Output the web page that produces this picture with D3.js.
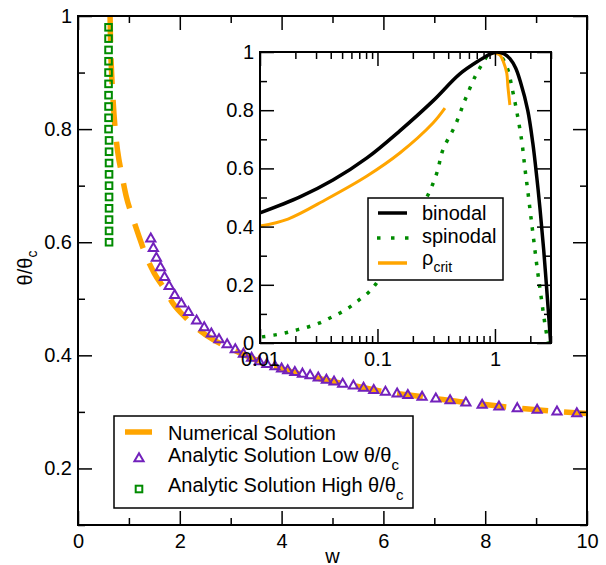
<!DOCTYPE html>
<html>
<head>
<meta charset="utf-8">
<script src="https://cdn.jsdelivr.net/npm/d3@7"></script>
<style>
  body { margin: 0; background: #fff; }
  svg { font-family: "Liberation Sans", Arial, sans-serif; }
</style>
</head>
<body>
<div id="chart"></div>
<script>
// Main plot: numerical solution (dashed orange)
const numW     = [0.63, 0.64, 0.66, 0.69, 0.73, 0.78, 0.86, 0.95, 1.07, 1.20, 1.34, 1.50, 1.68, 1.88, 2.10, 2.35, 2.65, 3.0, 3.5, 4.0, 4.5, 5.0, 5.5, 6.0, 6.5, 7.0, 7.5, 8.0, 8.5, 9.0, 9.5, 10.0];
const numTheta = [1.00, 0.95, 0.90, 0.85, 0.80, 0.76, 0.72, 0.68, 0.645, 0.61, 0.575, 0.545, 0.52, 0.49, 0.468, 0.447, 0.428, 0.412, 0.392, 0.376, 0.364, 0.354, 0.345, 0.336, 0.330, 0.324, 0.318, 0.313, 0.308, 0.304, 0.300, 0.297];

// analytic solution, low theta (triangles)
const lowW     = [1.43, 1.48, 1.54, 1.62, 1.70, 1.79, 1.90, 2.03, 2.17, 2.33, 2.48, 2.62, 2.77, 2.93, 3.09, 3.25, 3.41, 3.56, 3.71, 3.87, 4.00, 4.12, 4.26, 4.41, 4.56, 4.72, 4.88, 5.03, 5.20, 5.41, 5.61, 5.81, 6.04, 6.27, 6.48, 6.76, 7.03, 7.31, 7.62, 7.94, 8.27, 8.63, 9.02, 9.41, 9.80];
const lowTheta = [0.607, 0.590, 0.573, 0.556, 0.539, 0.523, 0.507, 0.492, 0.477, 0.462, 0.450, 0.439, 0.429, 0.420, 0.411, 0.403, 0.396, 0.390, 0.385, 0.381, 0.377, 0.374, 0.371, 0.368, 0.365, 0.361, 0.357, 0.354, 0.350, 0.347, 0.343, 0.339, 0.336, 0.333, 0.330, 0.327, 0.324, 0.321, 0.317, 0.313, 0.310, 0.307, 0.304, 0.301, 0.298];

// analytic solution, high theta (squares)
const highW     = [0.60, 0.60, 0.60, 0.60, 0.60, 0.60, 0.60, 0.60, 0.60, 0.60, 0.61, 0.61, 0.61, 0.61, 0.61, 0.61, 0.61, 0.61, 0.61, 0.61];
const highTheta = [0.98, 0.96, 0.94, 0.92, 0.90, 0.88, 0.86, 0.84, 0.82, 0.80, 0.78, 0.76, 0.74, 0.72, 0.70, 0.68, 0.66, 0.64, 0.62, 0.60];

// Inset curves (x on log axis)
const binX = [0.010, 0.0219, 0.0418, 0.0814, 0.155, 0.297, 0.50, 0.748, 0.90, 1.03, 1.20, 1.34, 1.50, 1.64, 1.90, 2.10, 2.27, 2.42, 2.60, 2.80, 2.98];
const binY = [0.447, 0.502, 0.560, 0.636, 0.729, 0.832, 0.924, 0.973, 0.992, 1.000, 0.993, 0.977, 0.945, 0.900, 0.800, 0.687, 0.570, 0.460, 0.320, 0.150, 0.0];

const spinX = [0.0104, 0.0131, 0.0166, 0.0206, 0.0256, 0.0318, 0.0394, 0.048, 0.0584, 0.0697, 0.083, 0.097, 0.15, 0.20, 0.264, 0.32, 0.36, 0.46, 0.556, 0.675, 0.77, 0.90, 1.0, 1.1, 1.26, 1.42, 1.57, 1.70, 1.80, 1.90, 2.0, 2.1, 2.3, 2.45, 2.7, 2.85];
const spinY = [0.021, 0.027, 0.035, 0.045, 0.055, 0.068, 0.086, 0.103, 0.124, 0.148, 0.172, 0.203, 0.32, 0.42, 0.502, 0.584, 0.663, 0.749, 0.835, 0.914, 0.955, 0.995, 1.0, 0.99, 0.95, 0.863, 0.773, 0.687, 0.600, 0.525, 0.45, 0.38, 0.25, 0.17, 0.05, 0.0];

const critLX = [0.010, 0.0173, 0.0371, 0.0814, 0.155, 0.297, 0.375];
const critLY = [0.402, 0.426, 0.495, 0.574, 0.653, 0.756, 0.807];
const critRX = [0.96, 1.10, 1.19, 1.26, 1.29, 1.34];
const critRY = [0.997, 0.99, 0.962, 0.928, 0.88, 0.818];

// ticks
const mainXMajor = [0, 2, 4, 6, 8, 10];
const mainXMinor = [1, 3, 5, 7, 9];
const mainYMajor = [0.2, 0.4, 0.6, 0.8, 1];
const mainYMinor = [0.1, 0.3, 0.5, 0.7, 0.9];
const insetXMajor = [0.01, 0.1, 1];
const insetXMinor = [0.02, 0.03, 0.04, 0.05, 0.06, 0.07, 0.08, 0.09, 0.2, 0.3, 0.4, 0.5, 0.6, 0.7, 0.8, 0.9, 2, 3];
const insetYMajor = [0, 0.2, 0.4, 0.6, 0.8, 1];
const insetYMinor = [0.1, 0.3, 0.5, 0.7, 0.9];

const ORANGE = "#ffa500", INDIGO = "#7221bc", GREEN = "#008b00";

const W = 606, H = 565;
const svg = d3.select("#chart").append("svg").attr("width", W).attr("height", H);

const M = { left: 78, right: 587, top: 16, bottom: 525 };
const x = d3.scaleLinear().domain([0, 10]).range([M.left, M.right]);
const y = d3.scaleLinear().domain([0.1, 1]).range([M.bottom, M.top]);

const I = { left: 260, right: 551, top: 52, bottom: 343 };
const xi = d3.scaleLog().domain([0.01, 3]).range([I.left, I.right]);
const yi = d3.scaleLinear().domain([0, 1]).range([I.bottom, I.top]);

svg.append("clipPath").attr("id", "clipMain").append("rect")
  .attr("x", M.left).attr("y", M.top).attr("width", M.right - M.left).attr("height", M.bottom - M.top);
svg.append("clipPath").attr("id", "clipInset").append("rect")
  .attr("x", I.left).attr("y", I.top).attr("width", I.right - I.left).attr("height", I.bottom - I.top);

// draws an inward-tick frame (all four sides)
function frame(g, xs, ys, xMaj, xMin, yMaj, yMin, box, labelX, labelY) {
  const fontSize = 20;
  g.append("g").attr("transform", `translate(0,${box.bottom})`)
    .call(d3.axisBottom(xs).tickValues(xMaj).tickSize(-14).tickPadding(9).tickFormat(labelX));
  g.append("g").attr("transform", `translate(0,${box.bottom})`)
    .call(d3.axisBottom(xs).tickValues(xMin).tickSize(-7).tickFormat(""));
  g.append("g").attr("transform", `translate(0,${box.top})`)
    .call(d3.axisTop(xs).tickValues(xMaj).tickSize(-14).tickFormat(""));
  g.append("g").attr("transform", `translate(0,${box.top})`)
    .call(d3.axisTop(xs).tickValues(xMin).tickSize(-7).tickFormat(""));
  g.append("g").attr("transform", `translate(${box.left},0)`)
    .call(d3.axisLeft(ys).tickValues(yMaj).tickSize(-14).tickPadding(6).tickFormat(labelY));
  g.append("g").attr("transform", `translate(${box.left},0)`)
    .call(d3.axisLeft(ys).tickValues(yMin).tickSize(-7).tickFormat(""));
  g.append("g").attr("transform", `translate(${box.right},0)`)
    .call(d3.axisRight(ys).tickValues(yMaj).tickSize(-14).tickFormat(""));
  g.append("g").attr("transform", `translate(${box.right},0)`)
    .call(d3.axisRight(ys).tickValues(yMin).tickSize(-7).tickFormat(""));

  g.selectAll(".domain").remove();
  g.selectAll(".tick line").attr("stroke", "#000").attr("stroke-width", 1.5);
  g.selectAll(".tick text").attr("font-size", fontSize).attr("fill", "#000")
    .attr("font-family", "Liberation Sans, Arial, sans-serif");
  g.append("rect").attr("x", box.left).attr("y", box.top)
    .attr("width", box.right - box.left).attr("height", box.bottom - box.top)
    .attr("fill", "none").attr("stroke", "#000").attr("stroke-width", 2);
}

// ---------- main plot ----------
const main = svg.append("g");
const dataG = main.append("g").attr("clip-path", "url(#clipMain)");

const numLine = d3.line().x(d => x(d[0])).y(d => y(d[1])).curve(d3.curveMonotoneX);
dataG.append("path")
  .attr("d", numLine(d3.zip(numW, numTheta)))
  .attr("fill", "none").attr("stroke", ORANGE).attr("stroke-width", 5.5)
  .attr("stroke-dasharray", "26,16");

const triPath = "M0,-4.8L4.6,3.2L-4.6,3.2Z";
dataG.selectAll("path.tri").data(d3.zip(lowW, lowTheta)).join("path")
  .attr("class", "tri").attr("d", triPath)
  .attr("transform", d => `translate(${x(d[0])},${y(d[1])})`)
  .attr("fill", "none").attr("stroke", INDIGO).attr("stroke-width", 2);

dataG.selectAll("rect.sq").data(d3.zip(highW, highTheta)).join("rect")
  .attr("class", "sq")
  .attr("x", d => x(d[0]) - 3.3).attr("y", d => y(d[1]) - 3.3)
  .attr("width", 6.6).attr("height", 6.6)
  .attr("fill", "none").attr("stroke", GREEN).attr("stroke-width", 2);

frame(main, x, y, mainXMajor, mainXMinor, mainYMajor, mainYMinor, M, d => String(d), d => String(d));

// axis titles
main.append("text").attr("x", (M.left + M.right) / 2).attr("y", 563)
  .attr("text-anchor", "middle").attr("font-size", 20).text("w");
const yt = main.append("text").attr("transform", "translate(32,268) rotate(-90)")
  .attr("text-anchor", "middle").attr("font-size", 20);
yt.append("tspan").text("θ/θ");
yt.append("tspan").attr("font-size", 14).attr("dy", 5).text("c");

// main legend
const leg = main.append("g");
leg.append("rect").attr("x", 114).attr("y", 416).attr("width", 299).attr("height", 92)
  .attr("fill", "#fff").attr("stroke", "#000").attr("stroke-width", 1.5);
leg.append("line").attr("x1", 125).attr("x2", 152).attr("y1", 432).attr("y2", 432)
  .attr("stroke", ORANGE).attr("stroke-width", 5.5);
leg.append("path").attr("d", triPath).attr("transform", "translate(139,458)")
  .attr("fill", "none").attr("stroke", INDIGO).attr("stroke-width", 2);
leg.append("rect").attr("x", 135.7).attr("y", 485.7).attr("width", 6.6).attr("height", 6.6)
  .attr("fill", "none").attr("stroke", GREEN).attr("stroke-width", 2);
leg.append("text").attr("x", 168).attr("y", 440).attr("font-size", 20).text("Numerical Solution");
const l2 = leg.append("text").attr("x", 168).attr("y", 462).attr("font-size", 20);
l2.append("tspan").text("Analytic Solution Low θ/θ");
l2.append("tspan").attr("font-size", 15).attr("dy", 8).text("c");
const l3 = leg.append("text").attr("x", 168).attr("y", 492).attr("font-size", 20);
l3.append("tspan").text("Analytic Solution High θ/θ");
l3.append("tspan").attr("font-size", 15).attr("dy", 8).text("c");

// ---------- inset ----------
const inset = svg.append("g");
inset.append("rect").attr("x", I.left).attr("y", I.top)
  .attr("width", I.right - I.left).attr("height", I.bottom - I.top).attr("fill", "#fff");

const iline = d3.line().x(d => xi(d[0])).y(d => yi(d[1])).curve(d3.curveCatmullRom.alpha(0.5));
const curves = inset.append("g").attr("clip-path", "url(#clipInset)");
curves.append("path").attr("d", iline(d3.zip(spinX, spinY)))
  .attr("fill", "none").attr("stroke", GREEN).attr("stroke-width", 3.5)
  .attr("stroke-dasharray", "3.5,8");
curves.append("path").attr("d", iline(d3.zip(critLX, critLY)))
  .attr("fill", "none").attr("stroke", ORANGE).attr("stroke-width", 3);
curves.append("path").attr("d", iline(d3.zip(critRX, critRY)))
  .attr("fill", "none").attr("stroke", ORANGE).attr("stroke-width", 3);
curves.append("path").attr("d", iline(d3.zip(binX, binY)))
  .attr("fill", "none").attr("stroke", "#000").attr("stroke-width", 3.5);

frame(inset, xi, yi, insetXMajor, insetXMinor, insetYMajor, insetYMinor, I,
  d => String(d), d => String(d));

// inset legend
const il = inset.append("g");
il.append("rect").attr("x", 368).attr("y", 198).attr("width", 135).attr("height", 82)
  .attr("fill", "#fff").attr("stroke", "#000").attr("stroke-width", 1.5);
il.append("line").attr("x1", 378).attr("x2", 407).attr("y1", 213).attr("y2", 213)
  .attr("stroke", "#000").attr("stroke-width", 3.5);
il.append("line").attr("x1", 377).attr("x2", 410).attr("y1", 238).attr("y2", 238)
  .attr("stroke", GREEN).attr("stroke-width", 3.5).attr("stroke-dasharray", "3.5,10.5");
il.append("line").attr("x1", 378).attr("x2", 407).attr("y1", 263).attr("y2", 263)
  .attr("stroke", ORANGE).attr("stroke-width", 3.5);
il.append("text").attr("x", 422).attr("y", 220).attr("font-size", 20).text("binodal");
il.append("text").attr("x", 422).attr("y", 243).attr("font-size", 20).text("spinodal");
const rc = il.append("text").attr("x", 422).attr("y", 265).attr("font-size", 20);
rc.append("tspan").text("ρ");
rc.append("tspan").attr("font-size", 14).attr("dy", 7).text("crit");
</script>
</body>
</html>
